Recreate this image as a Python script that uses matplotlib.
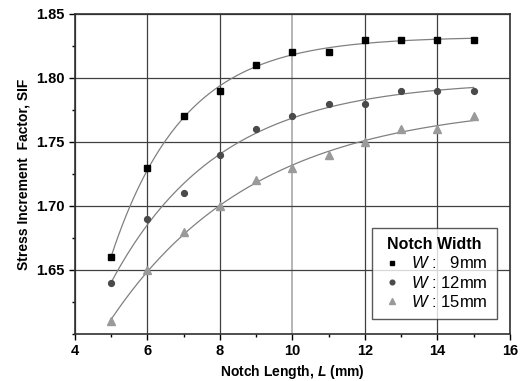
import matplotlib
matplotlib.use("Agg")
import matplotlib.pyplot as plt
from matplotlib.ticker import MultipleLocator
import numpy as np

plt.rcParams["font.family"] = ["Liberation Sans", "DejaVu Sans"]
plt.rcParams["mathtext.fontset"] = "custom"
plt.rcParams["mathtext.it"] = "Liberation Sans:italic"
plt.rcParams["mathtext.rm"] = "Liberation Sans"
plt.rcParams["mathtext.bfit"] = "Liberation Sans:italic:bold"

notch_length = [5, 6, 7, 8, 9, 10, 11, 12, 13, 14, 15]
sif_w9 = [1.66, 1.73, 1.77, 1.79, 1.81, 1.82, 1.82, 1.83, 1.83, 1.83, 1.83]
sif_w12 = [1.64, 1.69, 1.71, 1.74, 1.76, 1.77, 1.78, 1.78, 1.79, 1.79, 1.79]
sif_w15 = [1.61, 1.65, 1.68, 1.70, 1.72, 1.73, 1.74, 1.75, 1.76, 1.76, 1.77]

labels = ["$W$ :   9mm", "$W$ : 12mm", "$W$ : 15mm"]
colors = ["#000000", "#4a4a4a", "#9a9a9a"]
markers = ["s", "o", "^"]


def exp_fit(x, y):
    # y = a - b*exp(-x/t), grid search on t, least squares for a, b
    x = np.asarray(x, float)
    y = np.asarray(y, float)
    best = None
    for t in np.linspace(0.5, 10, 400):
        M = np.column_stack([np.ones_like(x), -np.exp(-x / t)])
        coef, *_ = np.linalg.lstsq(M, y, rcond=None)
        err = np.sum((M @ coef - y) ** 2)
        if best is None or err < best[0]:
            best = (err, coef, t)
    _, (a, b), t = best
    xs = np.linspace(x.min(), x.max(), 200)
    return xs, a - b * np.exp(-xs / t)


fig = plt.figure(figsize=(5.22, 3.81), dpi=100)
ax = fig.add_axes([0.1437, 0.1234, 0.833, 0.84])

for series, c, m, lab in zip([sif_w9, sif_w12, sif_w15], colors, markers, labels):
    xs, ys = exp_fit(notch_length, series)
    ax.plot(xs, ys, color="#808080", lw=0.9, zorder=2)
    ax.plot(notch_length, series, linestyle="none", marker=m, color=c,
            markersize=4.2 if m != "^" else 5.5, label=lab, zorder=3)

ax.set_xlim(4, 16)
ax.set_ylim(1.60, 1.85)
ax.xaxis.set_major_locator(MultipleLocator(2))
ax.xaxis.set_minor_locator(MultipleLocator(1))
ax.yaxis.set_minor_locator(MultipleLocator(0.025))
ax.set_yticks([1.65, 1.70, 1.75, 1.80, 1.85])
ax.set_yticklabels(["1.65", "1.70", "1.75", "1.80", "1.85"])
ax.grid(True, which="major", color="#404040", lw=0.9)
ax.get_xgridlines()[4].set_color("#b0b0b0")
ax.get_xgridlines()[4].set_linewidth(1.3)

for s in ax.spines.values():
    s.set_linewidth(1.2)
    s.set_color("#303030")
ax.tick_params(which="major", length=4, width=1, labelsize=10.5)
ax.tick_params(which="minor", length=2.5, width=1)
for lbl in ax.get_xticklabels() + ax.get_yticklabels():
    lbl.set_fontweight("bold")

ax.set_xlabel(r"Notch Length, $\mathbfit{L}$ (mm)", fontsize=10, fontweight="bold", labelpad=3)
ax.set_ylabel("Stress Increment  Factor, SIF", fontsize=10, fontweight="bold", labelpad=4)

leg = ax.legend(loc="lower right", title="Notch Width", fontsize=12,
                frameon=True, fancybox=False, edgecolor="#303030",
                handletextpad=0.5, handlelength=1.3, borderpad=0.55,
                labelspacing=0.2, markerscale=0.8,
                bbox_to_anchor=(0.99, 0.02))
leg.get_title().set_fontweight("bold")
leg.get_title().set_fontsize(11.5)
leg.get_frame().set_linewidth(1.0)

fig.savefig("out.png", dpi=100)
